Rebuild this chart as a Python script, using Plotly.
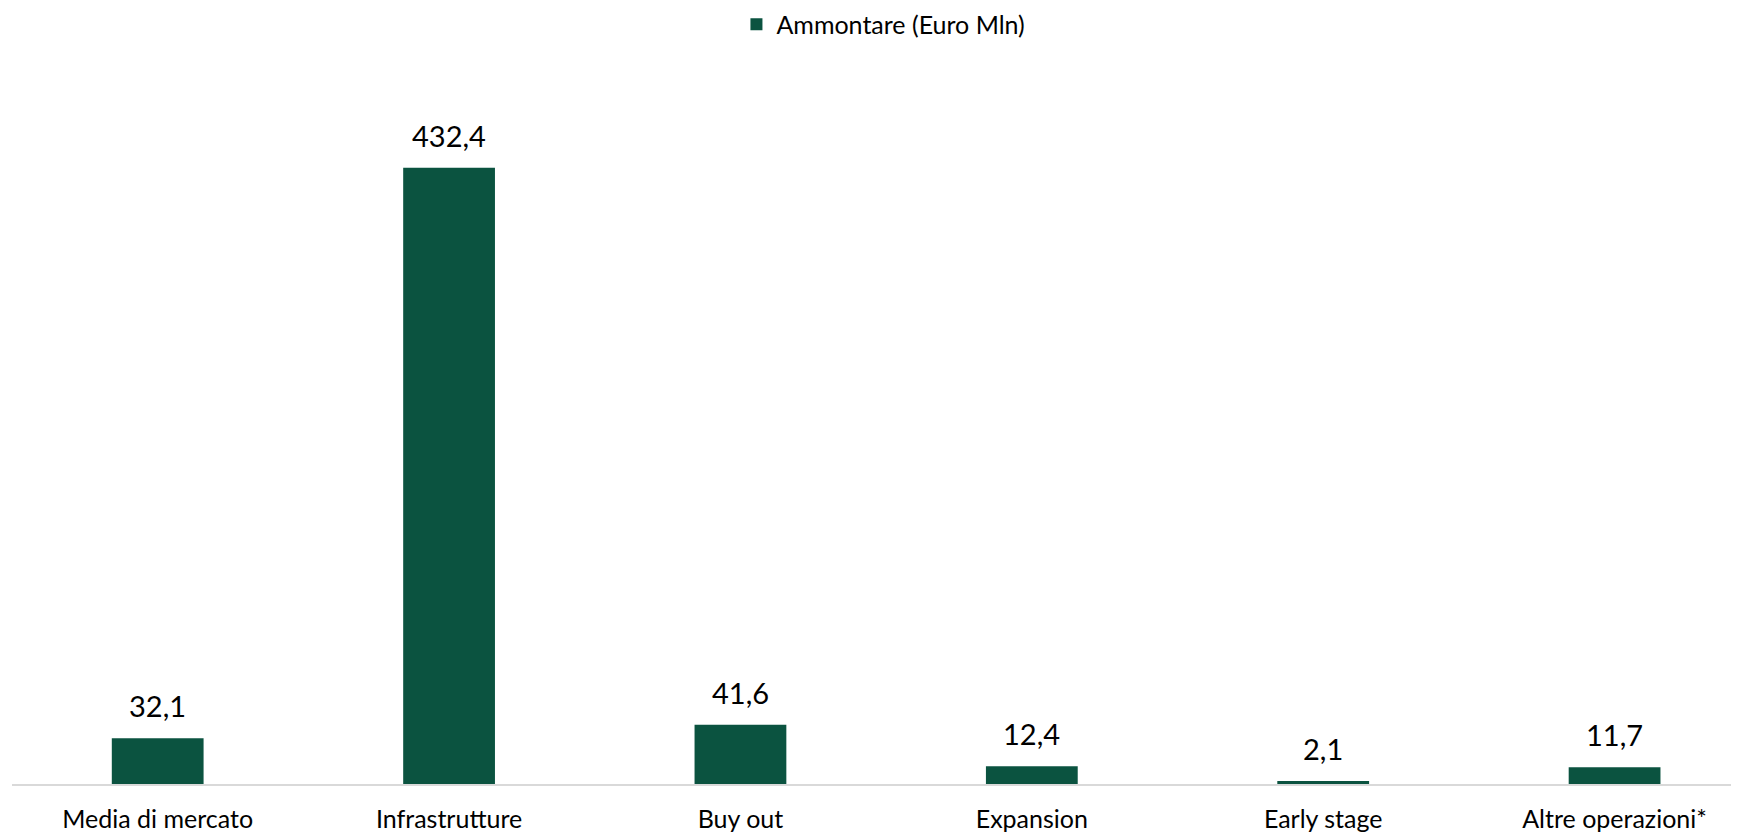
import plotly.graph_objects as go

categories = ["Media di mercato", "Infrastrutture", "Buy out", "Expansion", "Early stage", "Altre operazioni*"]
values = [32.1, 432.4, 41.6, 12.4, 2.1, 11.7]
labels = ["32,1", "432,4", "41,6", "12,4", "2,1", "11,7"]
series_name = "Ammontare (Euro Mln)"

BAR = "#0b5340"
FONT = "Lato"

fig = go.Figure()
fig.add_trace(go.Bar(x=categories, y=values, name=series_name, marker=dict(color=BAR, line=dict(width=0)),
                     hoverinfo="skip"))

for c, v, t in zip(categories, values, labels):
    fig.add_annotation(x=c, y=v, text=t, showarrow=False, yanchor="bottom", yshift=13,
                       font=dict(family=FONT, size=29, color="#000000"))

fig.update_layout(
    width=1731, height=826,
    margin=dict(l=4, r=0, t=92, b=50, autoexpand=False),
    paper_bgcolor="white", plot_bgcolor="white",
    bargap=0.685,
    showlegend=True,
    legend=dict(orientation="h", x=0.5046, xanchor="center", y=1.144, yref="paper", yanchor="top",
                font=dict(family=FONT, size=25, color="#000000"), itemwidth=30),
    xaxis=dict(range=[-0.5, 5.427], showgrid=False, showline=True, linecolor="#d9d9d9", linewidth=2,
               ticks="", tickfont=dict(family=FONT, size=25, color="#000000"), ticklabelstandoff=12,
               automargin=False),
    yaxis=dict(range=[0, 480], visible=False, showgrid=False),
)

fig.write_html("out.html")
